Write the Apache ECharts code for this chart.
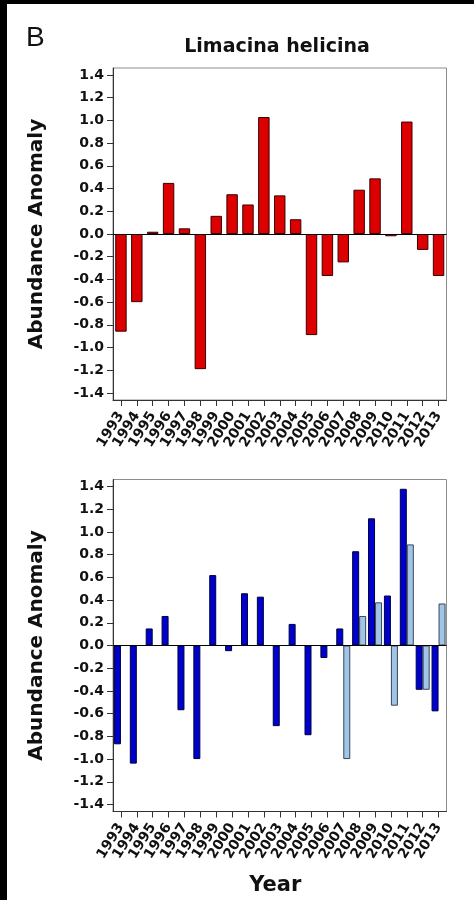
<!DOCTYPE html>
<html>
<head>
<meta charset="utf-8">
<script src="https://cdn.jsdelivr.net/npm/echarts@6/dist/echarts.min.js"></script>
<style>
  html, body { margin: 0; padding: 0; background: #fff; }
  #chart { width: 474px; height: 900px; }
</style>
</head>
<body>
<div id="chart"></div>
<script>
// Survey years shared by both panels
const years = ['1993','1994','1995','1996','1997','1998','1999','2000','2001','2002','2003',
               '2004','2005','2006','2007','2008','2009','2010','2011','2012','2013'];

// Panel 1: Limacina helicina abundance anomaly
const topAnomaly = [-0.86, -0.60, 0.02, 0.45, 0.05, -1.19, 0.16, 0.35, 0.26, 1.03, 0.34,
                    0.13, -0.89, -0.37, -0.25, 0.39, 0.49, -0.02, 0.99, -0.14, -0.37];

// Panel 2: two sampling series (dark and light bars)
const lowerDark = [-0.87, -1.04, 0.15, 0.26, -0.57, -1.00, 0.62, -0.05, 0.46, 0.43, -0.71,
                   0.19, -0.79, -0.11, 0.15, 0.83, 1.12, 0.44, 1.38, -0.39, -0.58];
const lowerLight = [null, null, null, null, null, null, null, null, null, null, null,
                    null, null, null, -1.00, 0.26, 0.38, -0.53, 0.89, -0.39, 0.37];

// Tick values on the anomaly axes
const yTicks = [-1.4, -1.2, -1.0, -0.8, -0.6, -0.4, -0.2, 0.0, 0.2, 0.4, 0.6, 0.8, 1.0, 1.2, 1.4];

const FONT = 'DejaVu Sans';
const AXIS_PAD = 1.4616;

function makeX(gridIndex, withName) {
  return {
    type: 'category',
    gridIndex: gridIndex,
    data: years,
    boundaryGap: true,
    axisLine: { show: true, onZero: false, lineStyle: { color: '#333', width: 1 } },
    axisTick: { show: true, alignWithLabel: true, length: 6, lineStyle: { color: '#333' } },
    axisLabel: {
      interval: 0, rotate: 58, margin: 13,
      fontFamily: FONT, fontWeight: 'bold', fontSize: 14, color: '#111'
    },
    splitLine: { show: false },
    name: withName ? 'Year' : '',
    nameLocation: 'middle',
    nameGap: 64,
    nameTextStyle: { fontFamily: FONT, fontWeight: 'bold', fontSize: 21, color: '#111',
                     verticalAlign: 'top', padding: [0, 9, 0, 0] }
  };
}

function makeY(gridIndex) {
  return {
    type: 'value',
    gridIndex: gridIndex,
    min: -AXIS_PAD,
    max: AXIS_PAD,
    axisLine: { show: true, lineStyle: { color: '#333', width: 1 } },
    axisTick: { show: true, inside: false, length: 6, customValues: yTicks, lineStyle: { color: '#333' } },
    axisLabel: {
      customValues: yTicks,
      formatter: function (v) { return Number(v).toFixed(1); },
      margin: 9,
      fontFamily: FONT, fontWeight: 'bold', fontSize: 14, color: '#111'
    },
    splitLine: { show: false },
    name: 'Abundance Anomaly',
    nameLocation: 'middle',
    nameRotate: 90,
    nameGap: 66,
    nameTextStyle: { fontFamily: FONT, fontWeight: 'bold', fontSize: 20, color: '#111' }
  };
}

const zeroLine = {
  silent: true,
  symbol: ['none', 'none'],
  label: { show: false },
  lineStyle: { color: '#000', width: 1, type: 'solid' },
  data: [{ yAxis: 0 }]
};

const option = {
  backgroundColor: '#fff',
  animation: false,
  grid: [
    { left: 113, top: 68, width: 333.5, height: 332, show: true, borderColor: '#8c8c8c', borderWidth: 1, containLabel: false },
    { left: 113, top: 479.5, width: 333.5, height: 332, show: true, borderColor: '#8c8c8c', borderWidth: 1, containLabel: false }
  ],
  xAxis: [makeX(0, false), makeX(1, true)],
  yAxis: [makeY(0), makeY(1)],
  series: [
    {
      type: 'bar', xAxisIndex: 0, yAxisIndex: 0,
      data: topAnomaly,
      barWidth: '72%',
      itemStyle: { color: '#dd0000', borderColor: '#3a0000', borderWidth: 1 },
      markLine: zeroLine
    },
    {
      type: 'bar', xAxisIndex: 1, yAxisIndex: 1,
      data: lowerDark,
      barWidth: 7, barGap: '0%',
      itemStyle: { color: '#0000cc', borderColor: '#000040', borderWidth: 1 },
      markLine: zeroLine
    },
    {
      type: 'bar', xAxisIndex: 1, yAxisIndex: 1,
      data: lowerLight,
      barWidth: 7, barGap: '0%',
      itemStyle: { color: '#9fc5e8', borderColor: '#3c4652', borderWidth: 1 }
    }
  ],
  graphic: [
    { type: 'rect', shape: { x: 0, y: 0, width: 7, height: 900 }, style: { fill: '#000' }, silent: true },
    { type: 'rect', shape: { x: 0, y: 0, width: 474, height: 4 }, style: { fill: '#000' }, silent: true },
    { type: 'text', left: 26, top: 24, silent: true,
      style: { text: 'B', fill: '#111', font: 'normal 28px "Liberation Sans"' } },
    { type: 'text', x: 277, y: 47, silent: true,
      style: { text: 'Limacina helicina', fill: '#111', font: 'bold 19px "DejaVu Sans"',
               align: 'center', verticalAlign: 'middle' } }
  ]
};

const chart = echarts.init(document.getElementById('chart'), null, { renderer: 'canvas' });
chart.setOption(option);
</script>
</body>
</html>
